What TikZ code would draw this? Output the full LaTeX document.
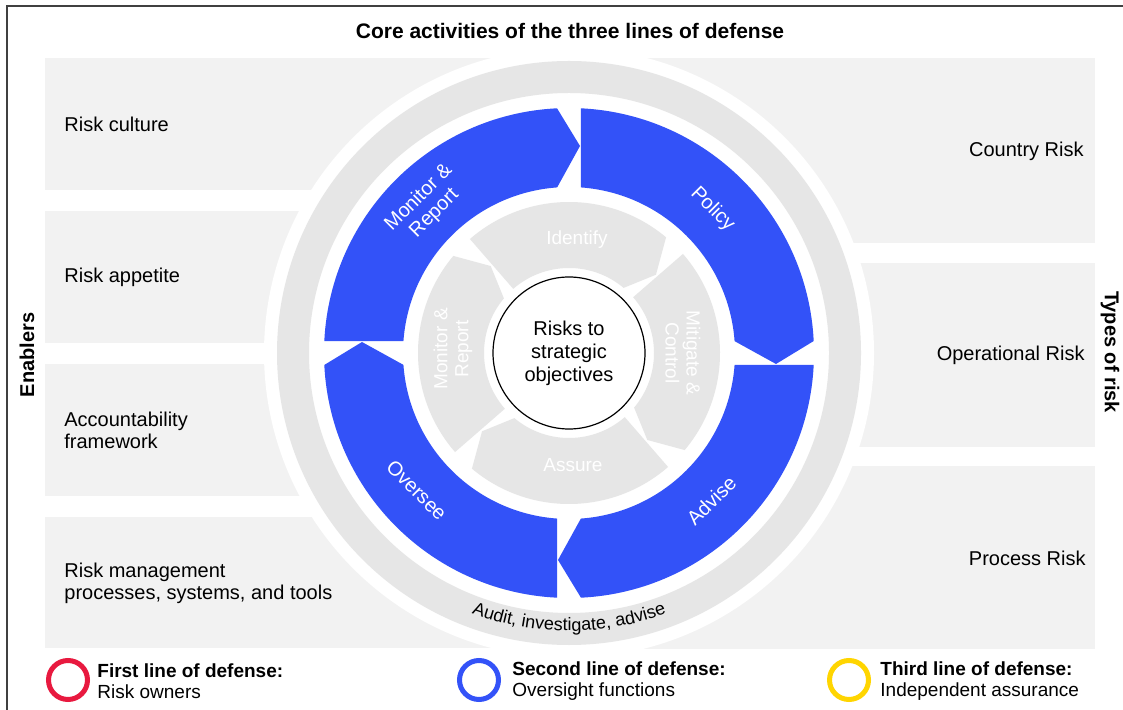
\documentclass[tikz,border=0pt]{standalone}
\usepackage{fontspec}
\setmainfont{Liberation Sans}
\usetikzlibrary{decorations.text}

\definecolor{lodblue}{HTML}{3352F8}
\definecolor{lodred}{HTML}{E8193F}
\definecolor{lodyellow}{HTML}{FFD500}
\definecolor{panelgray}{HTML}{F2F2F2}
\definecolor{ringgray}{HTML}{E6E6E6}
\definecolor{framegray}{HTML}{404040}

\tikzset{
	panel/.style={fill=panelgray},
	blueseg/.style={fill=lodblue},
	innerseg/.style={fill=ringgray},
	heading/.style={inner sep=0pt, font=\bfseries\fontsize{10}{12}\selectfont},
	enabler/.style={anchor=west, align=left, inner sep=0pt, font=\fontsize{10}{11}\selectfont},
	risktype/.style={anchor=east, align=right, inner sep=0pt, font=\fontsize{10}{11}\selectfont},
	bluelabel/.style={text=white, align=center, inner sep=0pt, font=\fontsize{10}{11}\selectfont},
	innerlabel/.style={text=white, align=center, inner sep=0pt, font=\fontsize{9.5}{10.5}\selectfont},
	legring/.style={line width=2.5pt},
	legtext/.style={anchor=west, align=left, inner sep=0pt, font=\fontsize{9.5}{10.5}\selectfont}
}

\begin{document}
\begin{tikzpicture}[x=0.5pt,y=0.5pt]
\useasboundingbox (0,0) rectangle (1123,-710);
\fill[white] (0,0) rectangle (1123,-710);
\draw[framegray, line width=0.7pt] (7,-710) -- (7,-6) -- (1123,-6);
\node[heading, font=\bfseries\fontsize{10.5}{12}\selectfont] (title) at (570,-31) {Core activities of the three lines of defense};

\fill[panel] (45,-58) rectangle (569,-190);
\fill[panel] (45,-211) rectangle (569,-343);
\fill[panel] (45,-364) rectangle (569,-496);
\fill[panel] (45,-517) rectangle (569,-648);
\fill[panel] (569,-58) rectangle (1095,-243);
\fill[panel] (569,-263) rectangle (1095,-447);
\fill[panel] (569,-466) rectangle (1095,-649);

\begin{scope}[shift={(569,-353)}]
\fill[white] (0,0) circle[radius=305];
\fill[ringgray, even odd rule] (0,0) circle[radius=292] (0,0) circle[radius=260];
\fill[blueseg, rotate=0] (177.2:245) arc[start angle=177.2, end angle=92.8, radius=245] -- (11,207) -- (94.1:166) arc[start angle=94.1, end angle=175.9, radius=166] -- cycle;
\fill[blueseg, rotate=-90] (177.2:245) arc[start angle=177.2, end angle=92.8, radius=245] -- (11,207) -- (94.1:166) arc[start angle=94.1, end angle=175.9, radius=166] -- cycle;
\fill[blueseg, rotate=-180] (177.2:245) arc[start angle=177.2, end angle=92.8, radius=245] -- (11,207) -- (94.1:166) arc[start angle=94.1, end angle=175.9, radius=166] -- cycle;
\fill[blueseg, rotate=-270] (177.2:245) arc[start angle=177.2, end angle=92.8, radius=245] -- (11,207) -- (94.1:166) arc[start angle=94.1, end angle=175.9, radius=166] -- cycle;
\fill[innerseg, rotate=0] (131:151) arc[start angle=131, end angle=50, radius=151] -- (42:117) -- (50:85) arc[start angle=50, end angle=131, radius=85] -- cycle;
\fill[innerseg, rotate=-90] (131:151) arc[start angle=131, end angle=50, radius=151] -- (42:117) -- (50:85) arc[start angle=50, end angle=131, radius=85] -- cycle;
\fill[innerseg, rotate=-180] (131:151) arc[start angle=131, end angle=50, radius=151] -- (42:117) -- (50:85) arc[start angle=50, end angle=131, radius=85] -- cycle;
\fill[innerseg, rotate=-270] (131:151) arc[start angle=131, end angle=50, radius=151] -- (42:117) -- (50:85) arc[start angle=50, end angle=131, radius=85] -- cycle;

\node[bluelabel, rotate=45] (bmonitor) at (134:205) {Monitor \&\\Report};
\node[bluelabel, rotate=-45] (bpolicy) at (45:203) {Policy};
\node[bluelabel, rotate=45] (badvise) at (-46:205) {Advise};
\node[bluelabel, rotate=-45] (boversee) at (222:205) {Oversee};

\node[innerlabel] (identify) at (86:114) {Identify};
\node[innerlabel, rotate=-90] (mitigate) at (0:114) {Mitigate \&\\Control};
\node[innerlabel] (assure) at (-88:112) {Assure};
\node[innerlabel, rotate=90] (imonitor) at (178:116) {Monitor \&\\Report};

\node[draw, circle, fill=white, line width=0.6pt, minimum size=76pt, inner sep=0pt, align=center, font=\fontsize{10}{11.5}\selectfont] (core) at (0,0) {Risks to\\strategic\\objectives};
\path[decorate, decoration={text along path, text={|\fontsize{9}{10}\selectfont|Audit, investigate, advise}, text align=center}] (236:278) arc[start angle=236, end angle=304, radius=278];
\end{scope}

\node[heading, rotate=90] (enablers) at (27,-355) {Enablers};
\node[heading, rotate=-90] (types) at (1110,-352) {Types of risk};

\node[enabler] (culture) at (64,-124) {Risk culture};
\node[enabler] (appetite) at (64,-277) {Risk appetite};
\node[enabler] (account) at (64,-430) {Accountability\\framework};
\node[enabler] (tools) at (64,-583) {Risk management\\processes, systems, and tools};

\node[risktype] (country) at (1084,-151) {Country Risk};
\node[risktype] (operational) at (1085,-355) {Operational Risk};
\node[risktype] (process) at (1086,-558) {Process Risk};

\draw[legring, lodred] (68,-680) circle[radius=19.5];
\node[legtext] (first) at (97,-681) {\textbf{First line of defense:}\\Risk owners};
\draw[legring, lodblue] (479,-680) circle[radius=19.5];
\node[legtext] (second) at (512,-681) {\textbf{Second line of defense:}\\Oversight functions};
\draw[legring, lodyellow] (849,-680) circle[radius=19.5];
\node[legtext] (third) at (880,-681) {\textbf{Third line of defense:}\\Independent assurance};
\end{tikzpicture}
\end{document}
